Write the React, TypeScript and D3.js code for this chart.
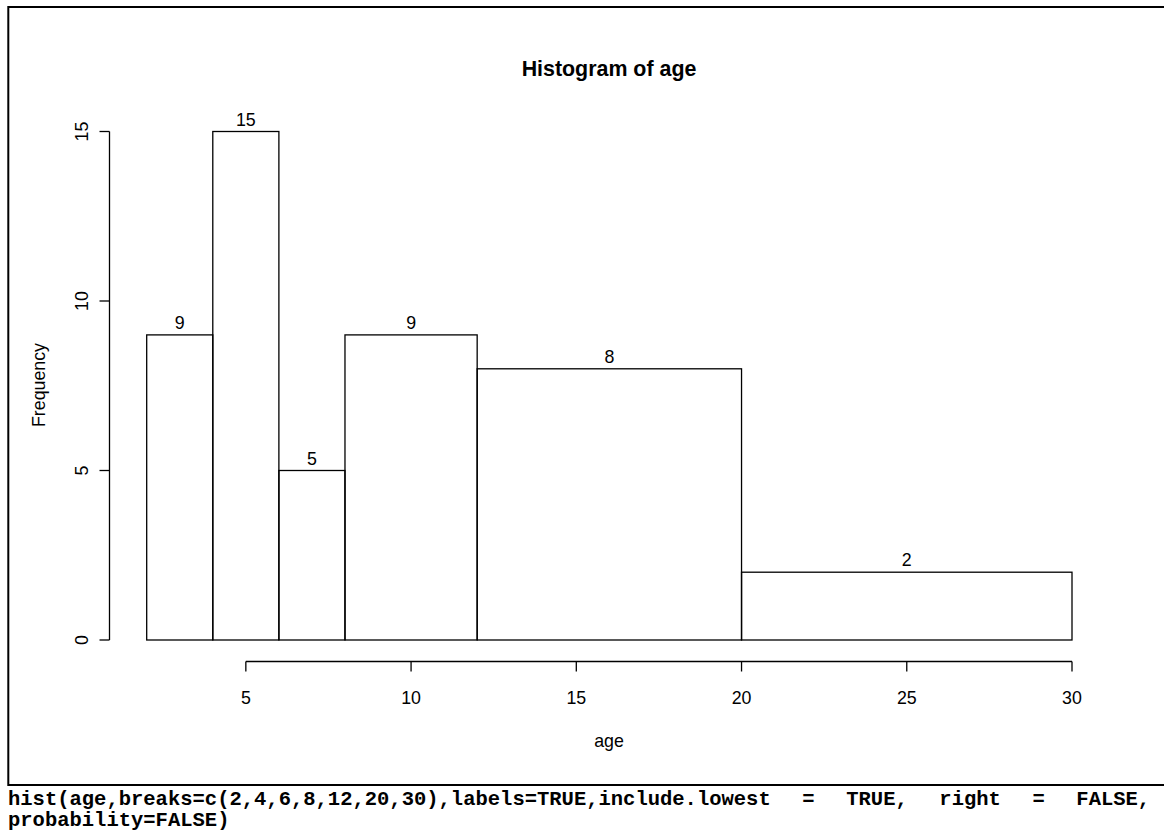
import React from "react";
import * as d3 from "d3";

const breaks = [2, 4, 6, 8, 12, 20, 30];
const counts = [9, 15, 5, 9, 8, 2];
const xTicks = [5, 10, 15, 20, 25, 30];
const yTicks = [0, 5, 10, 15];
const title = "Histogram of age";
const xLabel = "age";
const yLabel = "Frequency";
const codeLines = [
  "hist(age,breaks=c(2,4,6,8,12,20,30),labels=TRUE,include.lowest = TRUE, right = FALSE,",
  "probability=FALSE)",
];

export default function App() {
  const W = 1164;
  const H = 832;
  const x = d3.scaleLinear().domain([2, 30]).range([146.7, 1072]);
  const y = d3.scaleLinear().domain([0, 15]).range([640, 131.5]);
  const font = "'Liberation Sans', Arial, sans-serif";
  const fs = 17.8;
  const axisY = 661.5;
  const axisX = 109.5;
  const bins = counts.map((c, i) => ({ x0: breaks[i], x1: breaks[i + 1], c }));
  const codeFs = 20.5;
  const charW = codeFs * 0.6;
  const textLeft = 8;
  const textRight = 1150;
  return (
    <svg
      width={W}
      height={H}
      style={{ position: "absolute", left: 0, top: 0, background: "#fff" }}
    >
      <rect x={0} y={0} width={W} height={H} fill="#fff" />
      <path d={`M${W + 5},7 H8.3 V785 H${W + 5}`} fill="none" stroke="#000" strokeWidth={2} />
      <text x={609} y={76} textAnchor="middle" fontFamily={font} fontWeight="bold" fontSize={21.4}>
        {title}
      </text>
      {bins.map((b, i) => (
        <g key={i}>
          <rect
            x={x(b.x0)}
            y={y(b.c)}
            width={x(b.x1) - x(b.x0)}
            height={y(0) - y(b.c)}
            fill="none"
            stroke="#000"
            strokeWidth={1.3}
          />
          <text
            x={x((b.x0 + b.x1) / 2)}
            y={y(b.c) - 6}
            textAnchor="middle"
            fontFamily={font}
            fontSize={fs}
          >
            {b.c}
          </text>
        </g>
      ))}
      <line x1={x(xTicks[0])} x2={x(xTicks[xTicks.length - 1])} y1={axisY} y2={axisY} stroke="#000" strokeWidth={1.3} />
      {xTicks.map((t) => (
        <g key={t}>
          <line x1={x(t)} x2={x(t)} y1={axisY} y2={axisY + 10} stroke="#000" strokeWidth={1.3} />
          <text x={x(t)} y={703.6} textAnchor="middle" fontFamily={font} fontSize={fs}>
            {t}
          </text>
        </g>
      ))}
      <line x1={axisX} x2={axisX} y1={y(0)} y2={y(15)} stroke="#000" strokeWidth={1.3} />
      {yTicks.map((t) => (
        <g key={t}>
          <line x1={axisX - 10} x2={axisX} y1={y(t)} y2={y(t)} stroke="#000" strokeWidth={1.3} />
          <text
            transform={`translate(88.3,${y(t)}) rotate(-90)`}
            textAnchor="middle"
            fontFamily={font}
            fontSize={fs}
          >
            {t}
          </text>
        </g>
      ))}
      <text x={609} y={746.6} textAnchor="middle" fontFamily={font} fontSize={fs}>
        {xLabel}
      </text>
      <text transform={`translate(45.2,385) rotate(-90)`} textAnchor="middle" fontFamily={font} fontSize={fs}>
        {yLabel}
      </text>
      {codeLines.map((l, i) => {
        const isLast = i === codeLines.length - 1;
        const spaces = (l.match(/ /g) || []).length;
        const natural = l.length * charW;
        const ws = !isLast && spaces > 0 ? (textRight - textLeft - natural) / spaces : 0;
        return (
          <text
            key={i}
            x={textLeft}
            y={805 + i * 21}
            fontFamily="'Liberation Mono', 'Courier New', monospace"
            fontWeight="bold"
            fontSize={codeFs}
            style={{ whiteSpace: "pre", wordSpacing: `${ws}px` }}
          >
            {l}
          </text>
        );
      })}
    </svg>
  );
}
